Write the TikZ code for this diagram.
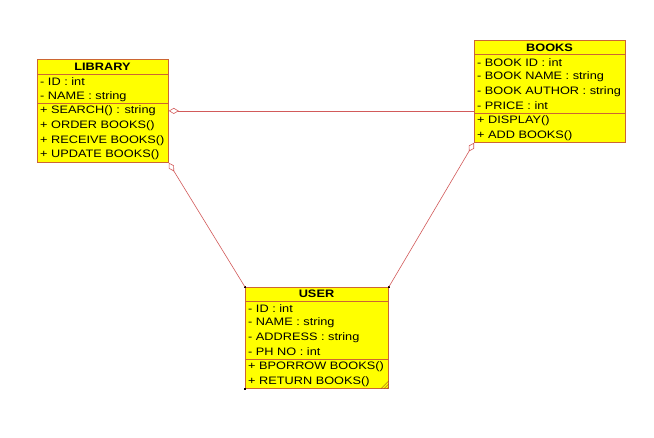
\documentclass[tikz,border=0pt]{standalone}
\usepackage{fontspec}
\setmainfont{Liberation Sans}[FakeStretch=1.18]
\usetikzlibrary{arrows.meta}
\definecolor{classfill}{RGB}{255,255,0}
\definecolor{classedge}{RGB}{204,102,51}
\definecolor{linkcol}{RGB}{210,90,90}
\tikzset{
  classbox/.style={draw=classedge, fill=classfill, line width=0.8pt, anchor=north west, inner sep=0pt},
  sepline/.style={draw=classedge, line width=0.8pt},
  rowtxt/.style={anchor=west, inner sep=0pt, font=\fontsize{10.8}{12}\selectfont},
  titletxt/.style={inner sep=0pt, font=\fontsize{10.8}{12}\selectfont\bfseries},
  link/.style={draw=linkcol, line width=0.6pt},
  agg/.style={link, {Diamond[open, length=10pt, width=6pt]}-},
  handle/.style={fill=black, minimum size=2.5pt, inner sep=0pt}
}
\begin{document}
\begin{tikzpicture}[x=1pt, y=-1pt]
\useasboundingbox[fill=white] (0,0) rectangle (654,437);
% LIBRARY
\node[classbox, minimum width=131pt, minimum height=103pt] (lib) at (37,59) {};
\draw[sepline] (37,74) -- (168,74);
\draw[sepline] (37,103) -- (168,103);
\node[titletxt] (libt) at (102.5,66.5) {LIBRARY};
\node[rowtxt] (liba1) at (40,82) {- ID : int};
\node[rowtxt] (liba2) at (40,96.5) {- NAME : string};
\node[rowtxt] (libm1) at (40,111) {+ SEARCH() : string};
\node[rowtxt] (libm2) at (40,126) {+ ORDER BOOKS()};
\node[rowtxt] (libm3) at (40,140.5) {+ RECEIVE BOOKS()};
\node[rowtxt] (libm4) at (40,155) {+ UPDATE BOOKS()};
% BOOKS
\node[classbox, minimum width=151pt, minimum height=102pt] (books) at (474,40) {};
\draw[sepline] (474,54.5) -- (625,54.5);
\draw[sepline] (474,113) -- (625,113);
\node[titletxt] (bookst) at (549.5,47.5) {BOOKS};
\node[rowtxt] (booksa1) at (477,62.5) {- BOOK ID : int};
\node[rowtxt] (booksa2) at (477,77) {- BOOK NAME : string};
\node[rowtxt] (booksa3) at (477,92) {- BOOK AUTHOR : string};
\node[rowtxt] (booksa4) at (477,106) {- PRICE : int};
\node[rowtxt] (booksm1) at (477,121) {+ DISPLAY()};
\node[rowtxt] (booksm2) at (477,135.5) {+ ADD BOOKS()};
% USER
\node[classbox, minimum width=143pt, minimum height=101pt] (user) at (245,287) {};
\draw[sepline] (245,301.5) -- (388,301.5);
\draw[sepline] (245,359) -- (388,359);
\node[titletxt] (usert) at (316.5,294) {USER};
\node[rowtxt] (usera1) at (248,308.5) {- ID : int};
\node[rowtxt] (usera2) at (248,323) {- NAME : string};
\node[rowtxt] (usera3) at (248,337.5) {- ADDRESS : string};
\node[rowtxt] (usera4) at (248,352) {- PH NO : int};
\node[rowtxt] (userm1) at (248,367) {+ BPORROW BOOKS()};
\node[rowtxt] (userm2) at (248,381.5) {+ RETURN BOOKS()};
% selection handles
\node[handle] (h1) at (user.north west) {};
\node[handle] (h2) at (user.north east) {};
\node[handle] (h3) at (user.south west) {};
\draw[draw=classedge!70!black, line width=0.4pt] ([xshift=-8pt]user.south east) -- ([yshift=8pt]user.south east)
  ([xshift=-5pt]user.south east) -- ([yshift=5pt]user.south east)
  ([xshift=-2pt]user.south east) -- ([yshift=2pt]user.south east);
% connectors
\draw[agg] (lib.east) -- (lib.east -| books.west);
\draw[agg] (lib.south east) -- (user.north west);
\draw[agg] (books.south west) -- (user.north east);
\end{tikzpicture}
\end{document}
